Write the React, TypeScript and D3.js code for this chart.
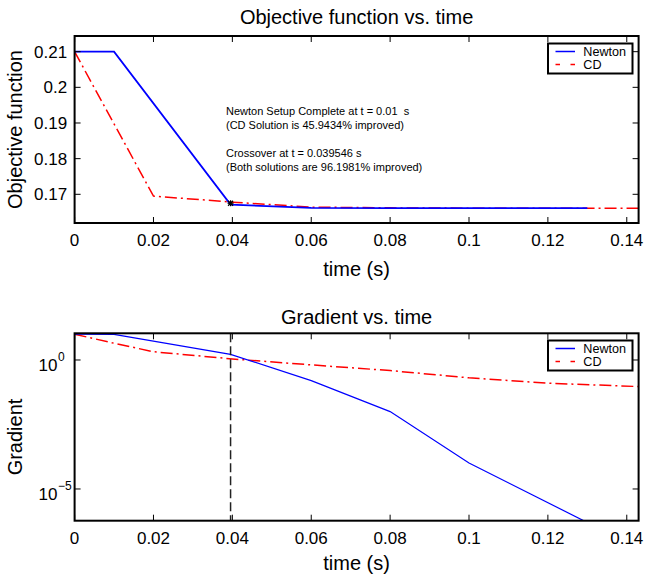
import React from "react";
import * as d3 from "d3";

const timeNewton = [0, 0.01, 0.039546, 0.06, 0.08, 0.1, 0.12, 0.13];
const objNewton = [0.21, 0.21, 0.1671, 0.1662, 0.1661, 0.1661, 0.1661, 0.1661];
const timeCD = [0, 0.02, 0.04, 0.06, 0.08, 0.1, 0.12, 0.143];
const objCD = [0.21, 0.1695, 0.1678, 0.1664, 0.1662, 0.1661, 0.1661, 0.1661];

const gradTimeNewton = [0, 0.01, 0.039546, 0.06, 0.08, 0.1, 0.13];
const gradNewton = [10.0, 9.9, 1.66, 0.158, 0.01, 1.02e-4, 5.0e-7];
const gradTimeCD = [0, 0.01, 0.02, 0.04, 0.06, 0.08, 0.1, 0.12, 0.143];
const gradCD = [10.0, 4.47, 2.09, 1.1, 0.646, 0.389, 0.204, 0.126, 0.0933];

const xTicks = [0, 0.02, 0.04, 0.06, 0.08, 0.1, 0.12, 0.14];
const xTickLabels = ["0", "0.02", "0.04", "0.06", "0.08", "0.1", "0.12", "0.14"];
const objTicks = [0.17, 0.18, 0.19, 0.2, 0.21];
const objTickLabels = ["0.17", "0.18", "0.19", "0.2", "0.21"];
const gradTicks = [1, 1e-5];
const gradTickExps = ["0", "\u22125"];
const crossoverT = 0.039546;
const crossoverObj = 0.1675;
const legendNames = ["Newton", "CD"];
const annotations = [
  "Newton Setup Complete at t = 0.01  s",
  "(CD Solution is 45.9434% improved)",
  "Crossover at t = 0.039546 s",
  "(Both solutions are 96.1981% improved)",
];

const FONT = "'Liberation Sans', Arial, Helvetica, sans-serif";
const L = 74.6, R = 638.6;
const top1 = 36, bot1 = 223;
const top2 = 333.3, bot2 = 520.7;
const TICK = 6;
const dashDot = "12,4,2,4";
const TF = 17;
const LF = 20;

const x = d3.scaleLinear().domain([0, 0.143]).range([L, R]);
const y1 = d3.scaleLinear().domain([0.16195, 0.2144]).range([bot1, top1]);
const y2 = d3.scaleLog().domain([Math.pow(10, -6.23), Math.pow(10, 1.035)]).range([bot2, top2]);

function Legend({ yTop }: { yTop: number }) {
  const lx = 548, w = 84.5, h = 30;
  return (
    <g>
      <rect x={lx} y={yTop} width={w} height={h} fill="white" stroke="black" strokeWidth={2} />
      <line x1={lx + 7.5} x2={lx + 27} y1={yTop + 8} y2={yTop + 8} stroke="#0000ff" strokeWidth={1.5} />
      <text x={lx + 35.3} y={yTop + 12.5} fontSize={12.6} fontFamily={FONT}>{legendNames[0]}</text>
      <line x1={lx + 7.5} x2={lx + 27} y1={yTop + 21} y2={yTop + 21} stroke="#ff0000" strokeWidth={1.5} strokeDasharray="4.5,10.5" />
      <text x={lx + 35.3} y={yTop + 25.5} fontSize={12.6} fontFamily={FONT}>{legendNames[1]}</text>
    </g>
  );
}

function Frame({ top, bot }: { top: number; bot: number }) {
  return (
    <g>
      {xTicks.map((t) => (
        <g key={t}>
          <line x1={x(t)} x2={x(t)} y1={bot} y2={bot - TICK} stroke="black" strokeWidth={1} />
          <line x1={x(t)} x2={x(t)} y1={top} y2={top + TICK} stroke="black" strokeWidth={1} />
        </g>
      ))}
      <rect x={L} y={top} width={R - L} height={bot - top} fill="none" stroke="black" strokeWidth={2} />
      {xTicks.map((t, i) => (
        <text key={t} x={x(t)} y={bot + 23} fontSize={TF} textAnchor="middle" fontFamily={FONT}>{xTickLabels[i]}</text>
      ))}
    </g>
  );
}

export default function App() {
  const line1 = d3.line<number>().x((d, i) => x(timeNewton[i])).y((d) => y1(d));
  const line1cd = d3.line<number>().x((d, i) => x(timeCD[i])).y((d) => y1(d));
  const line2 = d3.line<number>().x((d, i) => x(gradTimeNewton[i])).y((d) => y2(d));
  const line2cd = d3.line<number>().x((d, i) => x(gradTimeCD[i])).y((d) => y2(d));
  const cx = (L + R) / 2;
  const starX = x(crossoverT), starY = y1(crossoverObj);
  return (
    <svg width={646} height={574} style={{ position: "absolute", left: 0, top: 0, background: "white" }}>
      <defs>
        <clipPath id="c1"><rect x={L} y={top1} width={R - L} height={bot1 - top1} /></clipPath>
        <clipPath id="c2"><rect x={L} y={top2} width={R - L} height={bot2 - top2} /></clipPath>
      </defs>
      <rect width={646} height={574} fill="white" />
      {/* Top plot */}
      <text x={cx} y={24} fontSize={LF} textAnchor="middle" fontFamily={FONT}>Objective function vs. time</text>
      <g clipPath="url(#c1)">
        <path d={line1cd(objCD) || ""} fill="none" stroke="#ff0000" strokeWidth={1.5} strokeDasharray={dashDot} />
        <path d={line1(objNewton) || ""} fill="none" stroke="#0000ff" strokeWidth={1.8} />
      </g>
      <g stroke="black" strokeWidth={1.2}>
        <line x1={starX - 3} x2={starX + 3} y1={starY} y2={starY} />
        <line x1={starX} x2={starX} y1={starY - 3} y2={starY + 3} />
        <line x1={starX - 2.5} x2={starX + 2.5} y1={starY - 2.5} y2={starY + 2.5} />
        <line x1={starX - 2.5} x2={starX + 2.5} y1={starY + 2.5} y2={starY - 2.5} />
      </g>
      {objTicks.map((t, i) => (
        <g key={t}>
          <line x1={L} x2={L + TICK} y1={y1(t)} y2={y1(t)} stroke="black" />
          <line x1={R} x2={R - TICK} y1={y1(t)} y2={y1(t)} stroke="black" />
          <text x={L - 7.5} y={y1(t) + 6} fontSize={TF} textAnchor="end" fontFamily={FONT}>{objTickLabels[i]}</text>
        </g>
      ))}
      <Frame top={top1} bot={bot1} />
      <text x={cx} y={276} fontSize={LF} textAnchor="middle" fontFamily={FONT}>time (s)</text>
      <text transform={`translate(22,${(top1 + bot1) / 2}) rotate(-90)`} fontSize={LF} textAnchor="middle" fontFamily={FONT}>Objective function</text>
      {annotations.map((a, i) => (
        <text key={i} x={226} y={[114.5, 129, 156.5, 171][i]} fontSize={11} fontFamily={FONT} style={{ whiteSpace: "pre" }}>{a}</text>
      ))}
      <Legend yTop={43.5} />

      {/* Bottom plot */}
      <text x={cx} y={323.5} fontSize={LF} textAnchor="middle" fontFamily={FONT}>Gradient vs. time</text>
      <g clipPath="url(#c2)">
        <path d={line2cd(gradCD) || ""} fill="none" stroke="#ff0000" strokeWidth={1.5} strokeDasharray={dashDot} />
        <path d={line2(gradNewton) || ""} fill="none" stroke="#0000ff" strokeWidth={1.2} />
        <line x1={x(crossoverT)} x2={x(crossoverT)} y1={top2} y2={bot2} stroke="#222" strokeWidth={1.5} strokeDasharray="9,4" />
      </g>
      {gradTicks.map((t, i) => (
        <g key={t}>
          <line x1={L} x2={L + TICK} y1={y2(t)} y2={y2(t)} stroke="black" />
          <line x1={R} x2={R - TICK} y1={y2(t)} y2={y2(t)} stroke="black" />
          <text x={57.5} y={y2(t) + 11} fontSize={TF} textAnchor="end" fontFamily={FONT}>10</text>
          <text x={58} y={y2(t) + 1} fontSize={12} textAnchor="start" fontFamily={FONT}>{gradTickExps[i]}</text>
        </g>
      ))}
      <Frame top={top2} bot={bot2} />
      <text x={cx} y={569.5} fontSize={LF} textAnchor="middle" fontFamily={FONT}>time (s)</text>
      <text transform={`translate(22,437) rotate(-90)`} fontSize={LF} textAnchor="middle" fontFamily={FONT}>Gradient</text>
      <Legend yTop={340.5} />
    </svg>
  );
}
